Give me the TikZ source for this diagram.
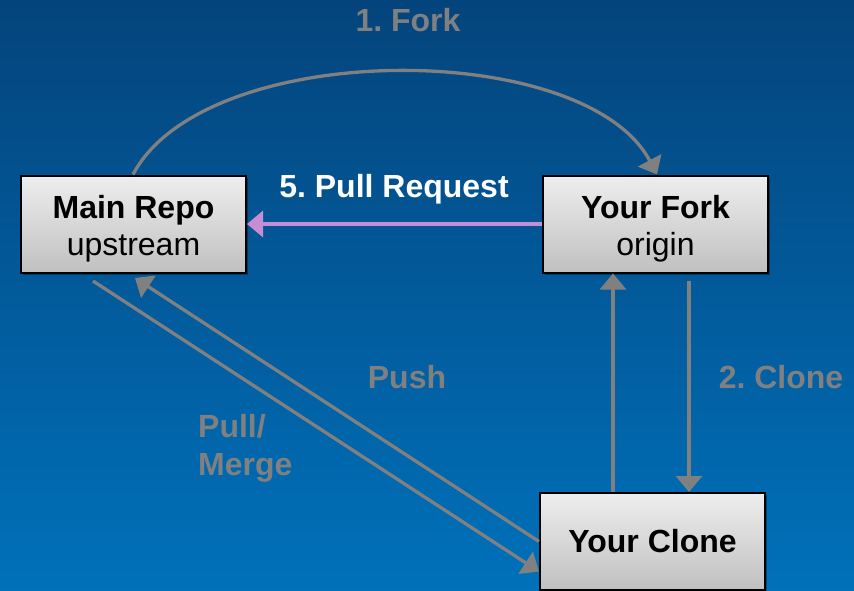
\documentclass[tikz,border=0pt]{standalone}
\usepackage{fontspec}
\setmainfont{Liberation Sans}
\usetikzlibrary{arrows.meta,shadows,calc}
\definecolor{bgtop}{RGB}{4,68,124}
\definecolor{bgbot}{RGB}{0,113,186}
\definecolor{arrowgray}{RGB}{128,128,128}
\definecolor{prpurple}{RGB}{198,140,214}
\definecolor{boxtop}{RGB}{238,238,238}
\definecolor{boxbot}{RGB}{192,192,192}
\tikzset{
  repobox/.style={draw=black, line width=2pt, top color=boxtop, bottom color=boxbot,
    minimum width=225pt, minimum height=97pt, inner sep=0pt, align=center,
    font=\fontsize{32}{37}\selectfont,
    drop shadow={shadow xshift=2pt, shadow yshift=-2pt, opacity=0.35, fill=black}},
  garrow/.style={draw=arrowgray, line width=3.3pt, -{Triangle[width=26pt,length=16pt]}},
  parrow/.style={draw=prpurple, line width=3.3pt, -{Triangle[width=26pt,length=16pt]}},
  glabel/.style={text=arrowgray, font=\fontsize{32}{38}\selectfont\bfseries\frenchspacing, inner sep=0pt},
  wlabel/.style={text=white, font=\fontsize{32}{38}\selectfont\bfseries\frenchspacing, inner sep=0pt}
}
\begin{document}
\frenchspacing
\begin{tikzpicture}[x=1pt,y=1pt]
\useasboundingbox (0,0) rectangle (854,-591);
\fill[top color=bgtop, bottom color=bgbot] (0,0) rectangle (854,-591);

\node[repobox] (main) at (133.5,-224) {\rule{0pt}{32pt}\textbf{Main Repo}\\upstream};
\node[repobox] (fork) at (655.5,-224) {\rule{0pt}{32pt}\textbf{Your Fork}\\origin};
\node[repobox] (clone) at (652.5,-541.5) {\textbf{Your Clone}};

\coordinate (ux) at (613,0);
\coordinate (dx) at (689,0);
\coordinate (dtop) at (689,-281);
\coordinate (pmstart) at (93,-281);
\coordinate (pushend) at (135,-278);

% 1. Fork arc
\draw[garrow] ([xshift=113pt]main.north west) .. controls (205,-38) and (585,-38) .. ([xshift=115pt]fork.north west);
% 5. Pull Request
\draw[parrow] (fork.west) -- (main.east);
% push up to fork
\draw[garrow] (ux |- clone.north) -- (ux |- fork.south);
% 2. Clone
\draw[garrow] (dtop) -- (dx |- clone.north);
% Pull/Merge
\draw[garrow] (pmstart) -- ([yshift=-30pt]clone.west);
% Push
\draw[garrow] (clone.west) -- (pushend);

\node[glabel, anchor=base] (lfork) at (408,-32) {1. Fork};
\node[wlabel, anchor=base] (lpr) at (394,-197) {5. Pull Request};
\node[glabel, anchor=base] (lpush) at (407,-388) {Push};
\node[glabel, anchor=base] (lclone) at (781,-388) {2. Clone};
\node[glabel, anchor=north west, align=left] (lpull) at (198,-414) {Pull/\\Merge};
\end{tikzpicture}
\end{document}
